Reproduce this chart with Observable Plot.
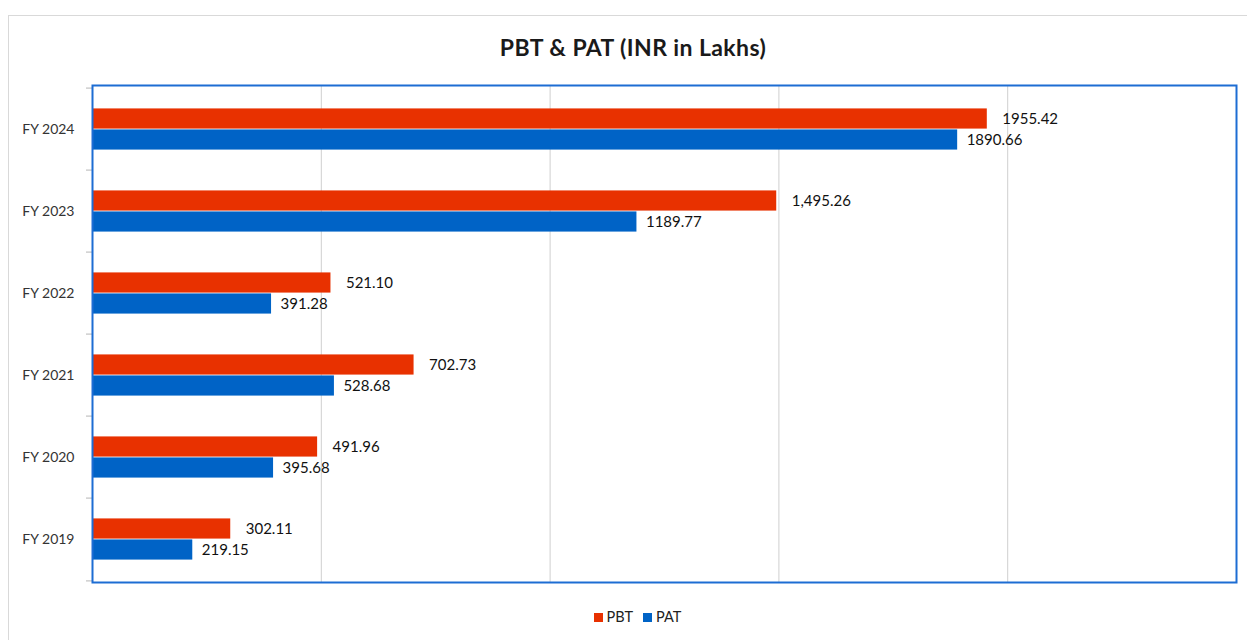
<!DOCTYPE html>
<html>
<head>
<meta charset="utf-8">
<script src="https://cdn.jsdelivr.net/npm/d3@7"></script>
<script src="https://cdn.jsdelivr.net/npm/@observablehq/plot@0.6"></script>
<style>
  html, body { margin: 0; padding: 0; background: #fff; overflow: hidden; }
  #wrap { position: relative; width: 1247px; height: 640px; font-family: Lato, "Open Sans", sans-serif; }
  #card { position: absolute; left: 8px; top: 15px; width: 1300px; height: 700px; border: 1px solid #d9d9d9; box-sizing: border-box; }
  #title { position: absolute; left: 0; width: 1266px; top: 33px; text-align: center; font-size: 23px; letter-spacing: 0.4px; line-height: 28px; font-weight: bold; color: #1a1a1a; }
  #legend { position: absolute; left: 0; width: 1275px; top: 608px; text-align: center; font-size: 14.5px; color: #222; }
  #legend span.sw { display: inline-block; width: 9px; height: 9px; margin-right: 4px; vertical-align: 0px; }
  #legend span.item { margin: 0 5px; }
  #chart { position: absolute; left: 0; top: 0; }
</style>
</head>
<body>
<div id="wrap">
  <div id="card"></div>
  <div id="chart"></div>
  <div id="title">PBT &amp; PAT (INR in Lakhs)</div>
  <div id="legend"></div>
</div>
<script>
const categories = ["FY 2024", "FY 2023", "FY 2022", "FY 2021", "FY 2020", "FY 2019"];
const seriesNames = ["PBT", "PAT"];
const pbt = [1955.42, 1495.26, 521.10, 702.73, 491.96, 302.11];
const pat = [1890.66, 1189.77, 391.28, 528.68, 395.68, 219.15];
const pbtLabels = ["1955.42", "1,495.26", "521.10", "702.73", "491.96", "302.11"];
const patLabels = ["1890.66", "1189.77", "391.28", "528.68", "395.68", "219.15"];
const gridTicks = [500, 1000, 1500, 2000];
const colors = {PBT: "#e83100", PAT: "#0063c6"};

const pbtData = categories.map((c, i) => ({cat: c, value: pbt[i], label: pbtLabels[i]}));
const patData = categories.map((c, i) => ({cat: c, value: pat[i], label: patLabels[i]}));

const H = 640, W = 1247;
const mT = 85, mB = 58, mL = 92, mR = 11;
const band = (H - mT - mB) / categories.length;
const barH = 21;
const off = band / 2 - barH;

const chart = Plot.plot({
  width: W,
  height: H,
  marginTop: mT,
  marginBottom: mB,
  marginLeft: mL,
  marginRight: mR,
  style: {fontFamily: "Lato, 'Open Sans', sans-serif", background: "transparent", color: "#333"},
  x: {domain: [0, 2500], axis: null},
  y: {domain: categories, padding: 0, axis: null, label: null},
  marks: [
    Plot.gridX(gridTicks, {stroke: "#cfcfcf", strokeOpacity: 1, strokeWidth: 1}),
    Plot.barX(pbtData, {x: "value", y: "cat", fill: colors.PBT, insetTop: off, insetBottom: band / 2}),
    Plot.barX(patData, {x: "value", y: "cat", fill: colors.PAT, insetTop: band / 2, insetBottom: off}),
    Plot.text(pbtData, {x: "value", y: "cat", text: "label", dy: -barH / 2, dx: 15, textAnchor: "start", fontSize: 15, fill: "#111"}),
    Plot.text(patData, {x: "value", y: "cat", text: "label", dy: barH / 2, dx: 9, textAnchor: "start", fontSize: 15, fill: "#111"}),
    Plot.axisY({tickSize: 0, tickPadding: 18, fontSize: 14, fill: "#333", label: null}),
    Plot.axisY({tickSize: 6, text: null, label: null, stroke: "#b5b5b5", dy: -band / 2}),
    Plot.axisY([categories[categories.length - 1]], {tickSize: 6, text: null, label: null, stroke: "#b5b5b5", dy: band / 2}),
    Plot.frame({stroke: "#1d6dd3", strokeWidth: 2})
  ]
});
document.getElementById("chart").appendChild(chart);

const legend = document.getElementById("legend");
legend.innerHTML = seriesNames.map(s =>
  `<span class="item"><span class="sw" style="background:${colors[s]}"></span>${s}</span>`
).join("");
</script>
</body>
</html>
